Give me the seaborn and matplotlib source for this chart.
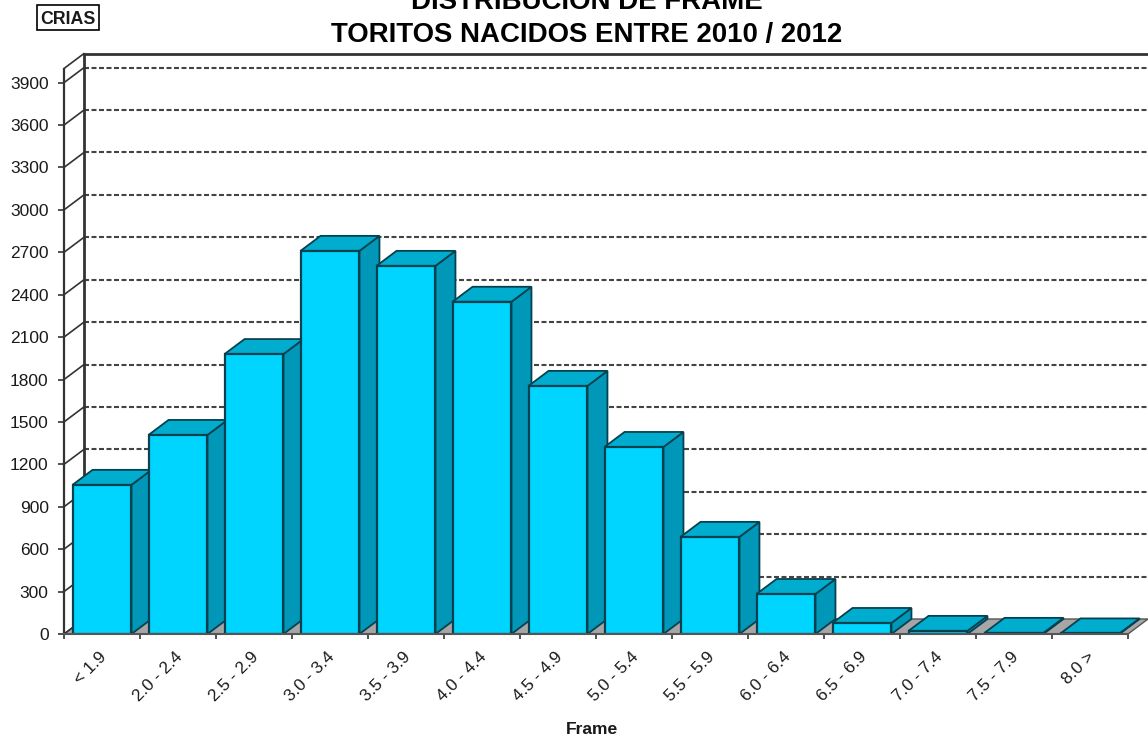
import matplotlib
matplotlib.use('Agg')
import matplotlib.pyplot as plt
from matplotlib.patches import Polygon, Rectangle
from matplotlib.transforms import ScaledTranslation
import numpy as np
import pandas as pd
import seaborn as sns

# Data
categories = ['< 1.9', '2.0 - 2.4', '2.5 - 2.9', '3.0 - 3.4', '3.5 - 3.9', '4.0 - 4.4', '4.5 - 4.9',
              '5.0 - 5.4', '5.5 - 5.9', '6.0 - 6.4', '6.5 - 6.9', '7.0 - 7.4', '7.5 - 7.9', '8.0 >']
crias = [1055, 1408, 1980, 2710, 2604, 2350, 1755, 1323, 687, 283, 78, 22, 8, 4]
y_ticks = list(range(0, 4000, 300))

W, H = 1148, 737
LEFT, RIGHT, TOP, BOTTOM = 64, 1128, 68.5, 634

sns.set_theme(style='white')
plt.rcParams['font.family'] = ['Liberation Sans', 'DejaVu Sans']

fig = plt.figure(figsize=(W / 100, H / 100), dpi=100)
ax = fig.add_axes([LEFT / W, 1 - BOTTOM / H, (RIGHT - LEFT) / W, (BOTTOM - TOP) / H])
ax.patch.set_visible(False)

df = pd.DataFrame({'frame': categories, 'crias': crias})
sns.barplot(data=df, x='frame', y='crias', ax=ax, color='#00D5FF', saturation=1, width=0.775,
            edgecolor='#06414F', linewidth=1.6)
bars = list(ax.patches)
ax.set_xlim(-0.5, len(categories) - 0.5)
ax.set_ylim(0, 4000)

# pixel sizes to data units
px_x = len(categories) / (RIGHT - LEFT)
px_y = 4000 / (BOTTOM - TOP)
depth_x, depth_y = 20 * px_x, 15 * px_y
x0, x1 = ax.get_xlim()
axis_col = '#333333'

# floor
ax.add_patch(Polygon([(x0, 0), (x1, 0), (x1 + depth_x, depth_y), (x0 + depth_x, depth_y)],
                     fc='#A6A6A6', ec='#555555', lw=1, clip_on=False, zorder=1))

# back wall lines and side wall diagonals
for t in y_ticks + [4000]:
    if 0 < t < 4000:
        ax.plot([x0 + depth_x, x1 + depth_x], [t + depth_y] * 2, color='#444444', lw=1.5,
                ls=(0, (2.4, 1.2)), clip_on=False, zorder=2)
    ax.plot([x0, x0 + depth_x], [t, t + depth_y], color=axis_col, lw=1.2, clip_on=False, zorder=2)
ax.plot([x0 + depth_x, x1 + depth_x], [4000 + depth_y] * 2, color=axis_col, lw=2, clip_on=False, zorder=2)
ax.plot([x0 + depth_x] * 2, [depth_y, 4000 + depth_y], color=axis_col, lw=2, clip_on=False, zorder=2)

# 3d sides of the bars, taken from the seaborn patches
for i, bar in enumerate(bars):
    l, w, h = bar.get_x(), bar.get_width(), bar.get_height()
    r = l + w
    z = 5 + i
    bar.set_zorder(z)
    ax.add_patch(Polygon([(r, 0), (r + depth_x, depth_y), (r + depth_x, h + depth_y), (r, h)],
                         fc='#0097B8', ec='#06414F', lw=1.3, clip_on=False, zorder=z - 0.5))
    ax.add_patch(Polygon([(l, h), (r, h), (r + depth_x, h + depth_y), (l + depth_x, h + depth_y)],
                         fc='#00ADCF', ec='#06414F', lw=1.3, clip_on=False, zorder=z - 0.5))

# axes
sns.despine(ax=ax, top=True, right=True)
ax.spines['left'].set_color(axis_col)
ax.spines['left'].set_linewidth(1.6)
ax.spines['left'].set_zorder(30)
ax.spines['bottom'].set_color('#555555')
ax.spines['bottom'].set_linewidth(1.5)
ax.spines['bottom'].set_zorder(30)
ax.set_yticks(y_ticks)
ax.set_yticklabels([str(t) for t in y_ticks], fontsize=12.5, color='#1A1A1A')
ax.tick_params(axis='y', length=4, width=1.2, color=axis_col, pad=7, left=True)
ax.set_xticks(range(len(categories)))
ax.set_xticklabels(categories, rotation=45, ha='right', rotation_mode='anchor', fontsize=12.3, color='#1A1A1A')
ax.tick_params(axis='x', length=0, pad=11)
shift = ScaledTranslation(-3 / 100, 0, fig.dpi_scale_trans)
for lab in ax.get_xticklabels():
    lab.set_transform(lab.get_transform() + shift)
ax.set_xticks(np.arange(x0, x1 + 0.5), minor=True)
ax.tick_params(axis='x', which='minor', length=3.5, width=1.2, color=axis_col, bottom=True)
ax.set_xlabel('')
ax.set_ylabel('')

# titles
fig.text(587 / W, 1 - 9 / H, 'DISTRIBUCION DE FRAME', ha='center', va='baseline',
         fontsize=19.9, fontweight='bold', color='black')
fig.text(586.5 / W, 1 - 42 / H, 'TORITOS NACIDOS ENTRE 2010 / 2012', ha='center', va='baseline',
         fontsize=19.9, fontweight='bold', color='black')
fig.text(592 / W, 1 - 729 / H, 'Frame', ha='center', va='center', fontsize=12.6, fontweight='bold', color='#1A1A1A')
fig.add_artist(Rectangle((37 / W, 1 - 30 / H), 62 / W, 25 / H, transform=fig.transFigure, fc='white', ec='black', lw=1.2))
fig.text(68 / W, 1 - 24.5 / H, 'CRIAS', ha='center', va='baseline', fontsize=12.8, fontweight='bold', color='#1A1A1A')

fig.savefig('out.png', dpi=100)
